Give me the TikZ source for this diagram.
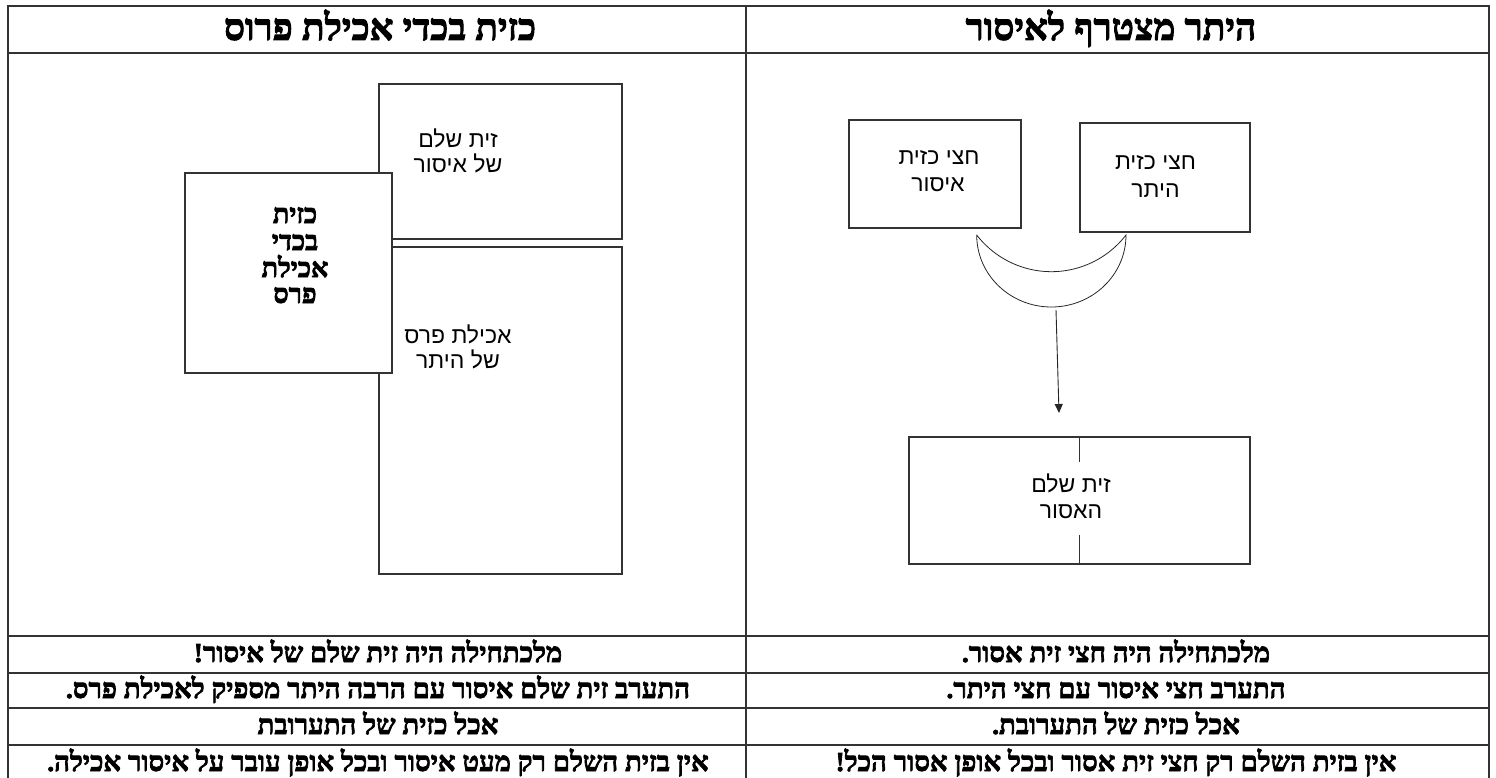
\documentclass[tikz,border=0pt]{standalone}
\usepackage{fontspec}
\usetikzlibrary{arrows.meta}
\setmainfont{Liberation Sans}
\newfontfamily\hebsans[Script=Hebrew]{Liberation Sans}
\newfontface\hebheavy[Script=Hebrew, FakeBold=2.5]{Liberation Serif Bold}
\TeXXeTstate=1
\newcommand{\rtltext}[1]{\beginR #1\endR}
\begin{document}
\begin{tikzpicture}[x=1pt,y=-1pt,
  tbl/.style={line width=1.6pt, draw=black!80},
  boxst/.style={draw=black!80, line width=1.2pt, fill=white, inner sep=0pt},
  moonst/.style={draw=black!85, line width=0.8pt},
  hdr/.style={font=\hebheavy\fontsize{37}{37}\selectfont, anchor=base, inner sep=0pt},
  rowtxt/.style={font=\hebheavy\fontsize{27.5}{27.5}\selectfont, anchor=base, inner sep=0pt},
  lbl/.style={font=\hebsans\fontsize{23}{23}\selectfont, anchor=base, inner sep=0pt},
  blbl/.style={font=\hebheavy\fontsize{27}{27}\selectfont, anchor=base, inner sep=0pt}]
\useasboundingbox (0,0) rectangle (1496,778);
% table
\draw[tbl] (8,790) -- (8,6) -- (1489,6) -- (1489,790);
\draw[tbl] (746,6) -- (746,790);
\foreach \yy in {53,636,673,708,745} \draw[tbl] (8,\yy) -- (1489,\yy);
% header
\node[hdr] (hL) at (380,40) {\rtltext{כזית בכדי אכילת פרוס}};
\node[hdr] (hR) at (1111,40) {\rtltext{היתר מצטרף לאיסור}};
% rows right
\node[rowtxt] (r1) at (1116,662) {\rtltext{מלכתחילה היה חצי זית אסור\kern0pt.}};
\node[rowtxt] (r2) at (1116,698) {\rtltext{התערב חצי איסור עם חצי היתר\kern0pt.}};
\node[rowtxt] (r3) at (1116,734) {\rtltext{אכל כזית של התערובת\kern0pt.}};
\node[rowtxt] (r4) at (1116,771) {\rtltext{אין בזית השלם רק חצי זית אסור ובכל אופן אסור הכל\kern0pt!}};
% rows left
\node[rowtxt] (l1) at (378,662) {\rtltext{מלכתחילה היה זית שלם של איסור\kern0pt!}};
\node[rowtxt] (l2) at (378,698) {\rtltext{התערב זית שלם איסור עם הרבה היתר מספיק לאכילת פרס\kern0pt.}};
\node[rowtxt] (l3) at (378,734) {\rtltext{אכל כזית של התערובת}};
\node[rowtxt] (l4) at (378,771) {\rtltext{אין בזית השלם רק מעט איסור ובכל אופן עובר על איסור אכילה\kern0pt.}};
% left diagram
\node[boxst, minimum width=243, minimum height=155] (zitA) at (500.5,161.5) {};
\node[boxst, minimum width=243, minimum height=327] (heter) at (500.5,410.5) {};
\node[boxst, minimum width=207, minimum height=200] (kzayit) at (288.5,273) {};
\node[lbl] (zitA1) at (458,148) {\rtltext{זית שלם}};
\node[lbl] (zitA2) at (458,173) {\rtltext{של איסור}};
\node[lbl] (heter1) at (458,343) {\rtltext{אכילת פרס}};
\node[lbl] (heter2) at (458,368) {\rtltext{של היתר}};
\node[blbl] (kz1) at (295,223) {\rtltext{כזית}};
\node[blbl] (kz2) at (295,250) {\rtltext{בכדי}};
\node[blbl] (kz3) at (295,277) {\rtltext{אכילת}};
\node[blbl] (kz4) at (295,303) {\rtltext{פרס}};
% right diagram
\node[boxst, minimum width=172, minimum height=108] (halfA) at (935,174) {};
\node[boxst, minimum width=170, minimum height=109] (halfB) at (1165,177.5) {};
\node[boxst, minimum width=341, minimum height=127] (whole) at (1079.5,500.5) {};
\draw[boxst] (whole.north) -- ++(0,26);
\draw[boxst] (whole.south) -- ++(0,-30);
\node[lbl] (hA1) at (939,165) {\rtltext{חצי כזית}};
\node[lbl] (hA2) at (938,192) {\rtltext{איסור}};
\node[lbl] (hB1) at (1155.5,170) {\rtltext{חצי כזית}};
\node[lbl] (hB2) at (1155.5,197) {\rtltext{היתר}};
\node[lbl] (wh1) at (1071,492) {\rtltext{זית שלם}};
\node[lbl] (wh2) at (1071,518) {\rtltext{האסור}};
% crescent
\draw[moonst] (976.7,235) arc[start angle=180, end angle=0, x radius=74.65, y radius=72]
  arc[start angle=37.66, end angle=142.34, radius=94.3] -- cycle;
\coordinate (moonbot) at (1056,310);
\coordinate (arrtip) at (1059,413);
\draw[line width=0.9pt, draw=black!85, -{Triangle[width=8pt,length=9pt]}] (moonbot) -- (arrtip);
\end{tikzpicture}
\end{document}
